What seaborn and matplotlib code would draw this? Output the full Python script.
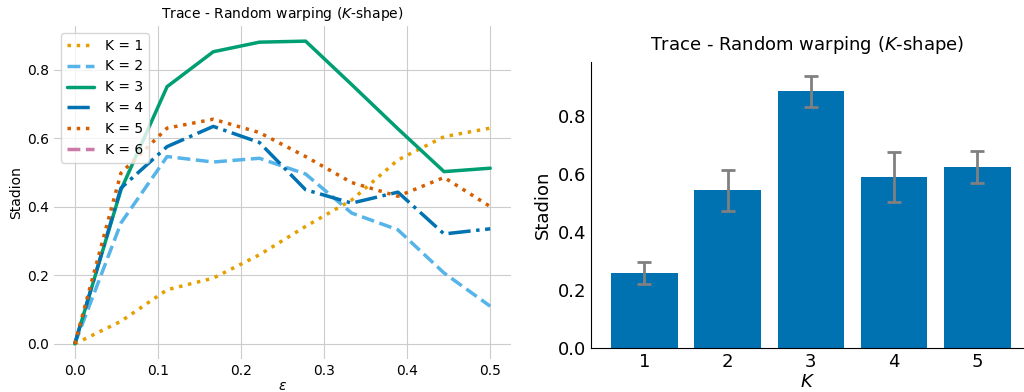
import numpy as np
import pandas as pd
import seaborn as sns
import matplotlib.pyplot as plt

# Line chart data (epsilon vs Stadion per K)
eps = [0.0, 0.0556, 0.1111, 0.1667, 0.2222, 0.2778, 0.3333, 0.3889, 0.4444, 0.5]
k1 = [0.0, 0.066, 0.158, 0.192, 0.260, 0.343, 0.420, 0.537, 0.605, 0.630]
k2 = [0.0, 0.353, 0.547, 0.531, 0.542, 0.496, 0.382, 0.333, 0.207, 0.110]
k3 = [0.0, 0.450, 0.751, 0.853, 0.881, 0.884, 0.757, 0.628, 0.503, 0.513]
k4 = [0.0, 0.455, 0.576, 0.635, 0.588, 0.450, 0.411, 0.443, 0.321, 0.336]
k5 = [0.0, 0.499, 0.630, 0.656, 0.617, 0.547, 0.471, 0.431, 0.486, 0.401]
k6 = [np.nan] * 10

# Bar chart data
bar_k = ['1', '2', '3', '4', '5']
bar_mean = [0.256, 0.543, 0.885, 0.587, 0.622]
bar_lo = [0.220, 0.472, 0.830, 0.502, 0.568]
bar_hi = [0.297, 0.613, 0.936, 0.675, 0.677]

colors = ['#E69F00', '#56B4E9', '#009E73', '#0072B2', '#D55E00', '#CC79A7']
styles = [':', '--', '-', '-.', ':', '--']

sns.set_style('whitegrid', {'grid.color': '.8', 'axes.edgecolor': 'black',
                            'text.color': 'black', 'axes.labelcolor': 'black',
                            'xtick.color': 'black', 'ytick.color': 'black'})
plt.rcParams['font.family'] = ['DejaVu Sans']

fig = plt.figure(figsize=(10.24, 3.92), dpi=100)
W, H = 1024, 392

# Left panel: traces
ax1 = fig.add_axes([54 / W, (H - 359) / H, (511 - 54) / W, (359 - 26) / H])
series = [k1, k2, k3, k4, k5]
for i, vals in enumerate(series):
    sns.lineplot(x=eps, y=vals, ax=ax1, color=colors[i], linestyle=styles[i],
                 linewidth=2.5, label=f'K = {i + 1}')
ax1.plot(eps, k6, color=colors[5], linestyle=styles[5], linewidth=2.5, label='K = 6')
for s in ax1.spines.values():
    s.set_visible(False)
ax1.tick_params(labelsize=10, length=0)
ax1.set_title('Trace - Random warping ($K$-shape)', fontsize=10)
ax1.set_xlabel(r'$\epsilon$', fontsize=10, labelpad=1)
ax1.set_ylabel('Stadion', fontsize=10, labelpad=3)
ax1.set_xticks([0.0, 0.1, 0.2, 0.3, 0.4, 0.5])
ax1.legend(loc='upper left', fontsize=10)

# Right panel: bars
ax2 = fig.add_axes([591 / W, (H - 347.7) / H, (1024 - 591) / W, (347.7 - 62) / H])
df = pd.DataFrame({'K': bar_k, 'Stadion': bar_mean})
sns.barplot(data=df, x='K', y='Stadion', ax=ax2, color='#0072B2', saturation=1,
            width=0.8, errorbar=None, linewidth=0)
err = [np.array(bar_mean) - np.array(bar_lo), np.array(bar_hi) - np.array(bar_mean)]
ax2.errorbar(range(len(bar_k)), bar_mean, yerr=err, fmt='none', ecolor='gray',
             elinewidth=2, capsize=5, capthick=2)
ax2.grid(False)
ax2.spines['top'].set_visible(False)
ax2.spines['right'].set_visible(False)
ax2.set_xlim(-0.64, 4.56)
ax2.set_ylim(0, 0.985)
ax2.set_yticks([0.0, 0.2, 0.4, 0.6, 0.8])
ax2.tick_params(labelsize=13, length=0)
ax2.set_title('Trace - Random warping ($K$-shape)', fontsize=13, pad=9)
ax2.set_xlabel('$K$', fontsize=13, labelpad=2)
ax2.set_ylabel('Stadion', fontsize=13)

fig.savefig('out.png', dpi=100)
